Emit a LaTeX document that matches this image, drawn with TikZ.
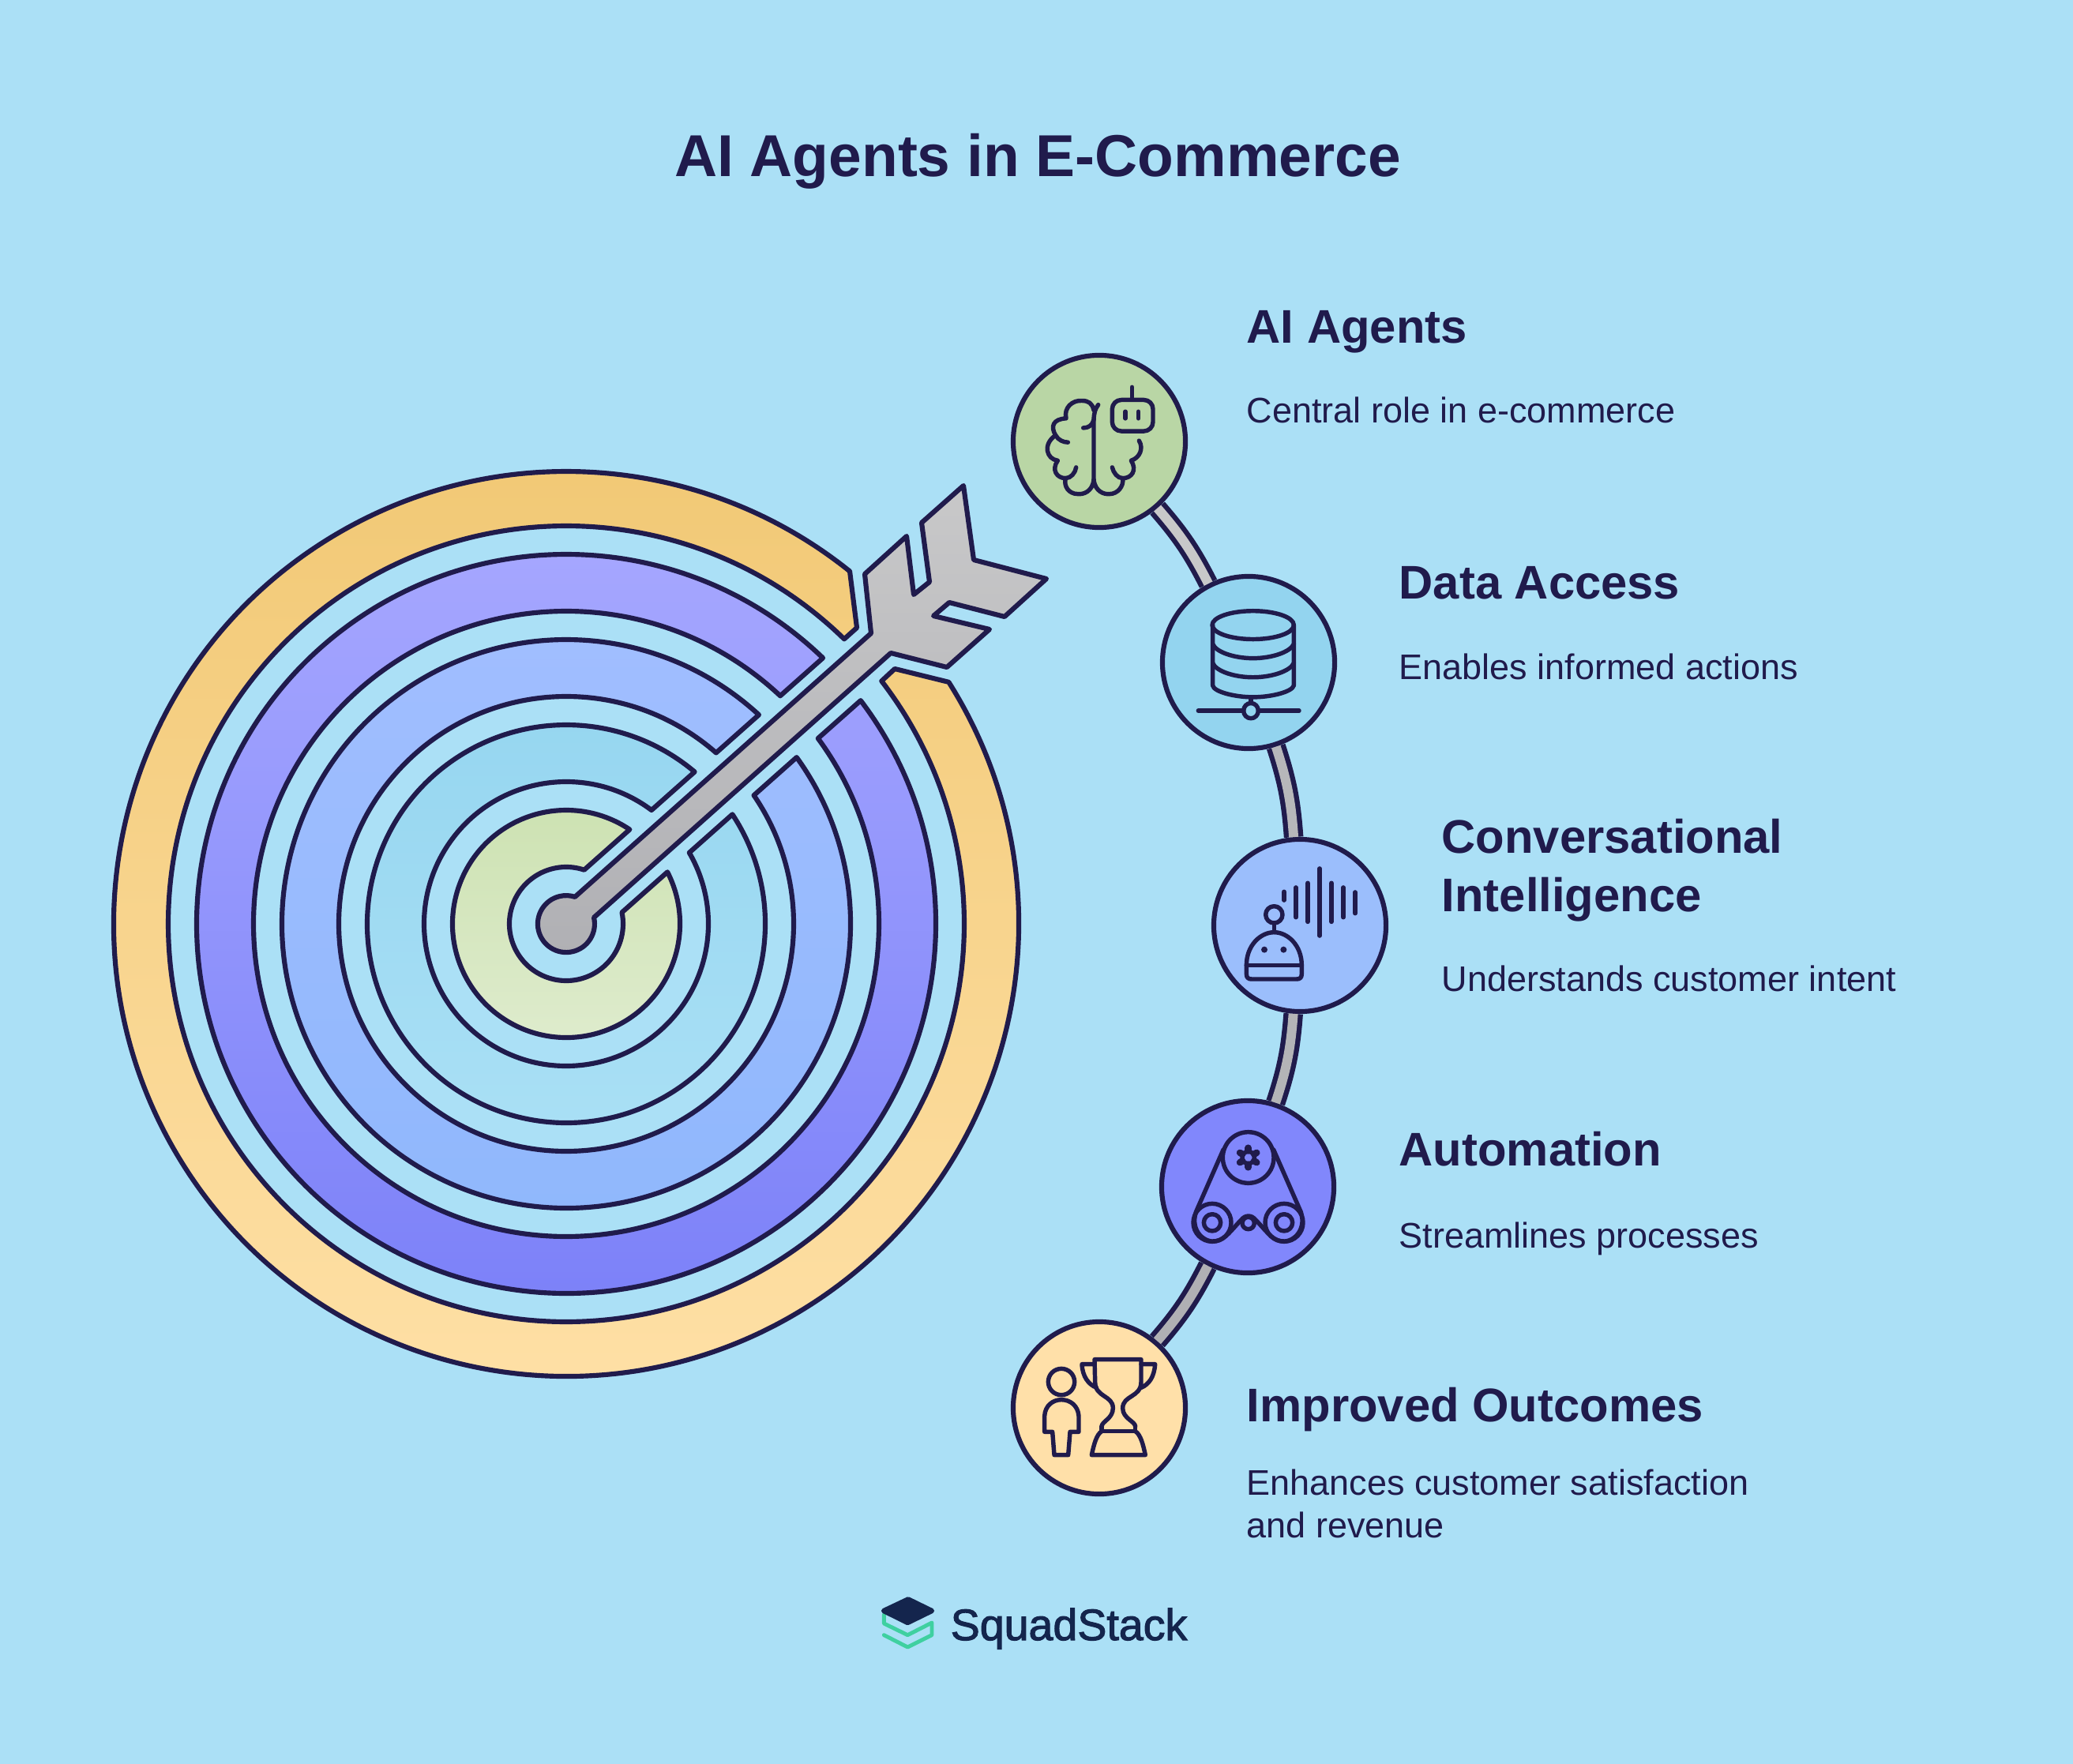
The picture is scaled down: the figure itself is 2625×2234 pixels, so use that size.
\documentclass[tikz,border=0pt]{standalone}
\usepackage{fontspec}
\setmainfont{Liberation Sans}
\newfontfamily\logofont[FakeBold=2]{Liberation Sans}
\definecolor{ink}{RGB}{32, 27, 76}
\definecolor{sky}{RGB}{171, 224, 246}
\definecolor{steeltop}{RGB}{200, 200, 201}
\definecolor{steelbot}{RGB}{176, 176, 180}
\definecolor{goldtop}{RGB}{241, 200, 116}
\definecolor{goldbot}{RGB}{255, 225, 168}
\definecolor{violettop}{RGB}{167, 168, 255}
\definecolor{violetbot}{RGB}{122, 127, 248}
\definecolor{bluetop}{RGB}{161, 190, 255}
\definecolor{bluebot}{RGB}{143, 183, 252}
\definecolor{cyantop}{RGB}{150, 214, 240}
\definecolor{cyanbot}{RGB}{170, 224, 245}
\definecolor{limetop}{RGB}{205, 226, 178}
\definecolor{limebot}{RGB}{223, 236, 206}
\definecolor{agentsfill}{RGB}{185, 214, 165}
\definecolor{datafill}{RGB}{147, 212, 239}
\definecolor{convfill}{RGB}{155, 190, 252}
\definecolor{autofill}{RGB}{129, 135, 252}
\definecolor{outcomefill}{RGB}{255, 224, 169}
\definecolor{logonavy}{RGB}{20, 37, 77}
\definecolor{logogreen}{RGB}{63, 208, 160}
\tikzset{
    ring/.style    = {draw=ink, line width=1.75pt, line join=round},
    stopnode/.style= {circle, draw=ink, line width=1.75pt, minimum size=2.18cm, inner sep=0pt},
    link/.style    = {draw=ink, line width=1.8pt, double distance=3.4pt},
    icon/.style    = {draw=ink, line width=1.55pt, line cap=round, line join=round},
    headtext/.style= {anchor=base west, inner sep=0pt, text=ink, align=left, font=\fontsize{17}{21}\selectfont\bfseries},
    bodytext/.style= {anchor=base west, inner sep=0pt, text=ink, align=left, font=\fontsize{12.8}{15.1}\selectfont},
}
\begin{document}
\begin{tikzpicture}[x=0.01cm, y=0.01cm, yscale=-1]
    \fill[sky] (0,0) rectangle (2625,2234);

    \begin{scope}[shift={(717,1170)}]
        \path[ring, top color=goldtop, bottom color=goldbot]
            (-32.3:573) arc[start angle=-32.3, end angle=308.8, radius=573]
            -- (368,-375) -- (314.3:504) arc[start angle=314.3, end angle=-37.6, radius=504]
            -- (416,-323) -- cycle;
        \foreach \rin/\rout/\ctop/\cbot in {396/468/violettop/violetbot,288/360/bluetop/bluebot,
                                            180/252/cyantop/cyanbot,72/144/limetop/limebot}{
            \pgfmathsetmacro\ain{asin(36/\rin)}
            \pgfmathsetmacro\aout{asin(36/\rout)}
            \path[ring, top color=\ctop, bottom color=\cbot]
                (-41.6+\aout:\rout) arc[start angle=-41.6+\aout, end angle=318.4-\aout, radius=\rout]
                -- (318.4-\ain:\rin) arc[start angle=318.4-\ain, end angle=-41.6+\ain, radius=\rin]
                -- cycle;
        }
    \end{scope}

    \path[ring, top color=steeltop, bottom color=steelbot] (752,1162) arc[start angle=-13, end angle=288, radius=36]
        -- (1103,802) -- (1095,727) -- (1148,679) -- (1157,753) -- (1177,737) -- (1167,662)
        -- (1220,615) -- (1233,709) -- (1325,733) -- (1272,781) -- (1202,763) -- (1182,780)
        -- (1253,797) -- (1199,845) -- (1128,827) -- cycle;

    \node[stopnode, fill=agentsfill]  (agents)  at (1392, 559) {};
    \node[stopnode, fill=datafill]    (data)    at (1581, 839) {};
    \node[stopnode, fill=convfill]    (conv)    at (1646,1172) {};
    \node[stopnode, fill=autofill]    (auto)    at (1580,1503) {};
    \node[stopnode, fill=outcomefill] (outcome) at (1392,1783) {};

    \draw[link, double=steeltop]             (agents) to[bend right=7] (data);
    \draw[link, double=steelbot!70!steeltop] (data)   to[bend right=7] (conv);
    \draw[link, double=steelbot!85!steeltop] (conv)   to[bend right=7] (auto);
    \draw[link, double=steelbot]             (auto)   to[bend right=7] (outcome);

    \begin{scope}[shift={(1270,430)}, xscale=1/3, yscale=0.3444]
        \draw[icon] (362,240) .. controls (350,255) and (346,270) .. (345,295) -- (345,515)
            .. controls (340,560) and (305,570) .. (285,568)
            .. controls (250,568) and (230,540) .. (238,510)
            .. controls (205,510) and (183,480) .. (208,445)
            .. controls (165,440) and (150,385) .. (200,352)
            .. controls (180,320) and (190,292) .. (240,290)
            .. controls (230,250) and (265,222) .. (300,225)
            .. controls (325,225) and (340,235) .. (345,260);
        \draw[icon] (305,325) .. controls (325,325) and (340,315) .. (345,295);
        \draw[icon] (247,378) .. controls (230,378) and (210,370) .. (200,352);
        \draw[icon] (278,470) .. controls (275,490) and (258,510) .. (238,510);
        \draw[icon] (345,515) .. controls (350,560) and (385,570) .. (405,568)
            .. controls (435,568) and (460,540) .. (455,510)
            .. controls (490,510) and (510,480) .. (487,445)
            .. controls (520,435) and (535,400) .. (517,372);
        \draw[icon] (415,470) .. controls (420,490) and (435,510) .. (455,510);
        \draw[icon, rounded corners=3.3pt] (415,222) -- (570,222) -- (570,337) -- (415,337) -- cycle;
        \draw[icon] (490,175) -- (490,220);
        \draw[icon] (465,265) -- (465,290);
        \draw[icon] (515,265) -- (515,290);

        \draw[icon] (950,1050) ellipse (155 and 52);
        \draw[icon] (797,1050) -- (797,1272) .. controls (800,1295) and (880,1315) .. (950,1315)
            .. controls (1020,1315) and (1100,1295) .. (1105,1272) -- (1105,1050);
        \draw[icon] (797,1120) .. controls (810,1150) and (880,1172) .. (950,1172)
            .. controls (1020,1172) and (1090,1150) .. (1105,1120);
        \draw[icon] (797,1190) .. controls (810,1220) and (880,1242) .. (950,1242)
            .. controls (1020,1242) and (1090,1220) .. (1105,1190);
        \draw[icon] (942,1315) -- (942,1337);
        \draw[icon] (942,1365) circle (28);
        \draw[icon] (742,1365) -- (914,1365);
        \draw[icon] (970,1365) -- (1125,1365);
    \end{scope}

    \begin{scope}[shift={(1520,1050)}, scale=1/3]
        \foreach \barx/\bartop/\barend in {318/238/270,363/222/335,408/205/352,453/150/405,
                                           498/205/352,543/222/335,588/240/320}{
            \draw[icon, line width=1.6pt] (\barx,\bartop) -- (\barx,\barend);
        }
        \draw[icon] (280,325) circle (32);
        \draw[icon] (280,358) -- (280,392);
        \draw[icon] (175,518) .. controls (175,440) and (230,392) .. (280,392)
            .. controls (330,392) and (385,440) .. (385,518) -- (385,550)
            .. controls (385,565) and (378,570) .. (365,570) -- (195,570)
            .. controls (182,570) and (175,565) .. (175,550) -- cycle;
        \draw[icon] (175,518) -- (385,518);
        \fill[ink] (243,458) circle (12);
        \fill[ink] (316,458) circle (12);
    \end{scope}

    \begin{scope}[shift={(1460,1380)}, scale=1/3]
        \draw[icon] (362,258) circle (97);
        \draw[icon] (225,505) circle (72);
        \draw[icon] (498,505) circle (72);
        \draw[icon] (225,505) circle (32);
        \draw[icon] (498,505) circle (32);
        \draw[icon] (267,228) -- (163,465) .. controls (140,540) and (200,585) .. (240,575)
            .. controls (275,570) and (300,530) .. (335,495)
            .. controls (350,475) and (375,475) .. (390,495)
            .. controls (425,530) and (450,570) .. (485,575)
            .. controls (525,585) and (585,540) .. (562,465) -- (458,228);
        \draw[icon] (362,507) circle (23);
        \draw[icon] (362,258) circle (23);
        \foreach \gearangle in {30,90,...,330}{
            \draw[icon, line width=2.4pt] (\gearangle:26) ++(362,258) -- ++(\gearangle:11);
        }
    \end{scope}

    \begin{scope}[shift={(1270,1660)}, scale=1/3]
        \draw[icon] (222,270) circle (50);
        \draw[icon] (158,460) -- (158,400) .. controls (160,360) and (190,338) .. (222,338)
            .. controls (255,338) and (285,360) .. (288,400) -- (288,460) -- (255,460)
            -- (248,548) -- (195,548) -- (188,460) -- cycle;
        \draw[icon] (375,440) .. controls (375,420) and (418,410) .. (418,370)
            .. controls (418,320) and (350,330) .. (350,270) -- (348,185) -- (525,185) -- (525,270)
            .. controls (525,330) and (455,320) .. (455,370)
            .. controls (455,410) and (503,420) .. (503,440);
        \draw[icon] (375,440) -- (375,458) -- (503,458) -- (503,440);
        \draw[icon] (375,458) .. controls (355,470) and (345,510) .. (337,548) -- (541,548)
            .. controls (533,510) and (523,470) .. (503,458);
        \draw[icon] (348,203) -- (300,203) .. controls (302,250) and (325,280) .. (355,292);
        \draw[icon] (525,203) -- (578,203) .. controls (575,250) and (555,280) .. (525,292);
    \end{scope}

    \begin{scope}[shift={(1090,2000)}, scale=1/3]
        \draw[line width=1.4pt, draw=logogreen, line join=round, line cap=round]
            (88,135) -- (88,168) -- (178,212) -- (270,165) -- (270,212) -- (178,258) -- (88,212);
        \filldraw[draw=logonavy, fill=logonavy, line width=1.8pt, line join=round]
            (180,76) -- (270,120) -- (178,165) -- (87,120) -- cycle;
    \end{scope}

    \node[anchor=base, text=ink, font=\fontsize{21.3}{26}\selectfont\bfseries] (title) at (1314,224) {AI Agents in E-Commerce};

    \node[headtext] (agentshead)   at (1578, 435) {AI Agents};
    \node[bodytext] (agentsbody)   at (1578, 536) {Central role in e-commerce};
    \node[headtext] (datahead)     at (1771, 758) {Data Access};
    \node[bodytext] (databody)     at (1771, 860) {Enables informed actions};
    \node[headtext] (convhead)     at (1825,1154) {Conversational\\Intelligence};
    \node[bodytext] (convbody)     at (1825,1255) {Understands customer intent};
    \node[headtext] (autohead)     at (1771,1476) {Automation};
    \node[bodytext] (autobody)     at (1771,1580) {Streamlines processes};
    \node[headtext] (outcomehead)  at (1578,1800) {Improved Outcomes};
    \node[bodytext] (outcomebody)  at (1578,1947) {Enhances customer satisfaction\\and revenue};

    \node[anchor=base west, inner sep=0pt, text=logonavy, font=\fontsize{15.8}{19}\logofont] (logotext) at (1203,2077) {SquadStack};
\end{tikzpicture}
\end{document}
